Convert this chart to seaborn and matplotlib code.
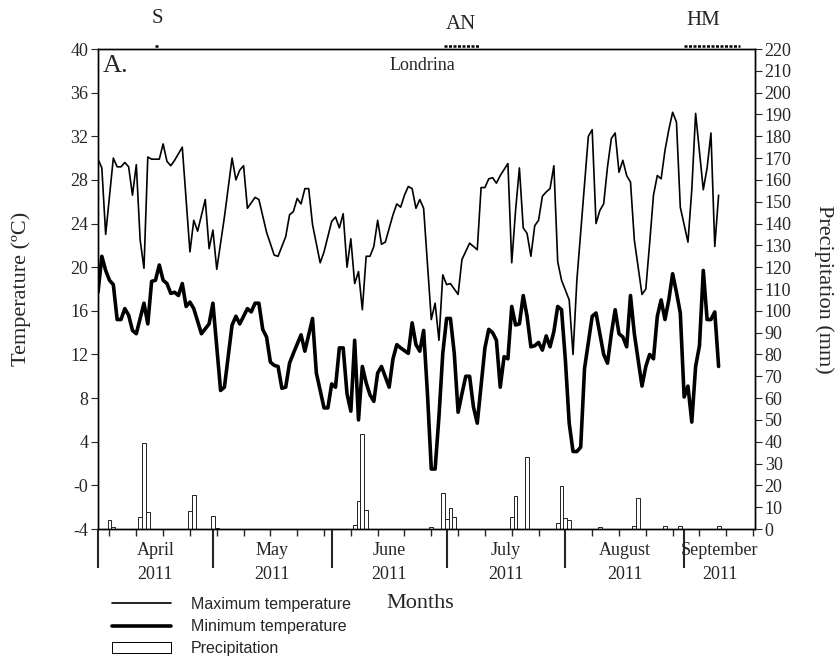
import numpy as np
import pandas as pd
import matplotlib
matplotlib.use("Agg")
import matplotlib.pyplot as plt
import seaborn as sns
from matplotlib.lines import Line2D
from matplotlib.patches import Patch

# days counted from 1 April 2011
max_days = [0, 1, 2, 4, 5, 6, 7, 8, 9, 10, 11, 12, 13, 14, 16, 17, 18, 19, 20, 22,
            24, 25, 26, 28, 29, 30, 31, 33, 35, 36, 37, 38, 39, 41, 42, 44, 46, 47, 49, 50,
            51, 52, 53, 54, 55, 56, 58, 59, 61, 62, 63, 64, 65, 66, 67, 68, 69, 70, 71, 72,
            73, 74, 75, 77, 78, 79, 80, 81, 82, 83, 84, 85, 87, 88, 89, 90, 91, 92, 94, 95,
            97, 98, 99, 100, 101, 102, 103, 104, 105, 107, 108, 109, 110, 111, 112, 113, 114, 115, 116, 117,
            118, 119, 120, 121, 123, 124, 125, 128, 129, 130, 131, 132, 133, 134, 135, 136, 137, 138, 139, 140,
            142, 143, 144, 145, 146, 147, 148, 149, 150, 151, 152, 154, 155, 156, 158, 159, 160, 161, 162]
max_temp = [29.9, 29.1, 23.0, 30.0, 29.2, 29.2, 29.6, 29.2, 26.6, 29.4, 22.5, 19.9, 30.1, 29.9, 29.9, 31.3, 29.7, 29.3, 29.8, 31.0,
            21.4, 24.3, 23.3, 26.2, 21.7, 23.4, 19.8, 24.6, 30.0, 28.0, 28.9, 29.3, 25.4, 26.4, 26.2, 23.2, 21.1, 21.0, 22.8, 24.8,
            25.1, 26.3, 25.8, 27.2, 27.2, 23.9, 20.4, 21.4, 24.2, 24.6, 23.6, 24.9, 20.0, 22.6, 18.5, 19.6, 16.1, 21.0, 21.0, 21.9,
            24.3, 22.1, 22.3, 24.8, 25.8, 25.5, 26.6, 27.4, 27.2, 25.4, 26.2, 25.4, 15.2, 16.7, 13.3, 19.3, 18.4, 18.5, 17.5, 20.7,
            22.2, 21.9, 21.6, 27.3, 27.3, 28.1, 28.2, 27.7, 28.4, 29.5, 20.4, 25.2, 29.1, 23.6, 23.1, 21.0, 23.8, 24.3, 26.5, 26.9,
            27.2, 29.3, 20.5, 18.8, 17.0, 12.0, 18.8, 32.0, 32.6, 24.0, 25.2, 25.8, 29.2, 31.8, 32.3, 28.7, 29.8, 28.4, 27.8, 22.5,
            17.5, 18.0, 22.2, 26.6, 28.4, 28.1, 30.7, 32.6, 34.2, 33.3, 25.5, 22.3, 27.1, 34.1, 27.1, 29.1, 32.3, 21.9, 26.6]

min_days = [0, 1, 2, 3, 4, 5, 6, 7, 8, 9, 10, 12, 13, 14, 15, 16, 17, 18, 19, 20,
            21, 22, 23, 24, 25, 27, 29, 30, 32, 33, 35, 36, 37, 38, 39, 40, 41, 42, 43, 44,
            45, 46, 47, 48, 49, 50, 51, 53, 54, 56, 57, 59, 60, 61, 62, 63, 64, 65, 66, 67,
            68, 69, 70, 71, 72, 73, 74, 76, 77, 78, 79, 81, 82, 83, 84, 85, 86, 87, 88, 89,
            90, 91, 92, 93, 94, 95, 96, 97, 98, 99, 101, 102, 103, 104, 105, 106, 107, 108, 109, 110,
            111, 112, 113, 114, 115, 116, 117, 118, 119, 120, 121, 122, 123, 124, 125, 126, 127, 129, 130, 131,
            132, 133, 134, 135, 136, 137, 138, 139, 140, 142, 143, 144, 145, 146, 147, 148, 149, 150, 151, 152,
            153, 154, 155, 156, 157, 158, 159, 160, 161, 162]
min_temp = [17.7, 21.0, 19.7, 18.8, 18.4, 15.2, 15.2, 16.2, 15.6, 14.2, 13.9, 16.7, 14.8, 18.7, 18.8, 20.2, 18.8, 18.5, 17.6, 17.7,
            17.4, 18.5, 16.4, 16.8, 16.2, 13.9, 14.8, 16.7, 8.7, 9.0, 14.7, 15.5, 14.8, 15.5, 16.2, 15.9, 16.7, 16.7, 14.3, 13.6,
            11.3, 11.0, 10.9, 8.9, 9.0, 11.2, 12.1, 13.8, 12.3, 15.3, 10.3, 7.1, 7.1, 9.3, 9.0, 12.6, 12.6, 8.4, 6.8, 13.3,
            6.0, 10.9, 9.4, 8.3, 7.7, 10.3, 10.9, 9.0, 11.6, 12.9, 12.6, 12.1, 14.9, 12.9, 12.3, 14.2, 8.4, 1.5, 1.5, 6.3,
            12.1, 15.3, 15.3, 12.1, 6.7, 8.4, 10.0, 10.0, 7.2, 5.7, 12.6, 14.3, 14.0, 13.3, 9.0, 11.8, 11.6, 16.4, 14.7, 14.8,
            17.4, 15.5, 12.7, 12.8, 13.1, 12.4, 13.7, 12.7, 14.1, 16.4, 16.1, 11.5, 5.7, 3.1, 3.1, 3.5, 10.7, 15.5, 15.8, 13.9,
            12.0, 11.2, 13.9, 16.1, 13.9, 13.6, 12.7, 17.4, 13.9, 9.1, 10.9, 12.0, 11.6, 15.5, 17.0, 15.2, 17.0, 19.4, 17.7, 15.8,
            8.1, 9.1, 5.8, 10.9, 12.8, 19.7, 15.2, 15.2, 15.9, 10.9]

rain_days = [3, 4, 11, 12, 13, 24, 25, 30, 31, 67, 68, 69, 70, 87, 90, 91, 92, 93,
             108, 109, 112, 120, 121, 122, 123, 131, 140, 141, 148, 152, 162]
rain_mm = [4.1, 1.0, 5.4, 39.3, 7.6, 8.4, 15.6, 6.1, 0.6, 1.8, 12.8, 43.6, 8.7, 1.0, 16.4, 4.6, 9.5, 5.4,
           5.4, 15.1, 33.2, 2.6, 19.7, 5.0, 4.1, 0.8, 1.5, 14.1, 1.2, 1.5, 1.5]

month_starts = [0, 30, 61, 91, 122, 153]
month_names = ["April", "May", "June", "July", "August", "September"]
day_end = 171.5
week_ticks = list(range(3, 172, 7))
temp_ticks = list(range(-4, 41, 4))
temp_labels = ["-0" if t == 0 else str(t) for t in temp_ticks]
rain_ticks = list(range(0, 221, 10))

sns.set_theme(style="ticks")
plt.rcParams['font.family'] = ['Liberation Serif', 'DejaVu Serif']
plt.rcParams['xtick.direction'] = 'out'
plt.rcParams['ytick.direction'] = 'out'

fig = plt.figure(figsize=(8.4, 6.59), dpi=100)
ax = fig.add_axes([98 / 840, 1 - 529 / 659, 657 / 840, 480 / 659])
ax2 = ax.twinx()

rain_df = pd.DataFrame({"day": rain_days, "mm": rain_mm})
sns.barplot(data=rain_df, x="day", y="mm", native_scale=True, width=1.0,
            color="white", edgecolor="#222222", linewidth=0.7, ax=ax2, zorder=1)
ax2.set_ylim(0, 220)
ax2.set_yticks(rain_ticks)
ax2.set_ylabel("Precipitation (mm)", rotation=270, labelpad=30, fontsize=16)
ax2.tick_params(axis="y", labelsize=13, length=5, width=0.8, pad=2)

ax.set_zorder(ax2.get_zorder() + 1)
ax.patch.set_visible(False)
sns.lineplot(x=max_days, y=max_temp, color="black", linewidth=1.2, ax=ax)
sns.lineplot(x=min_days, y=min_temp, color="black", linewidth=2.6, ax=ax)
ax.set_ylim(-4, 40)
ax.set_yticks(temp_ticks)
ax.set_yticklabels(temp_labels)
ax.set_ylabel("Temperature (ºC)", fontsize=16, labelpad=28)
ax.tick_params(axis="y", labelsize=13, length=5, width=0.8, pad=2)

ax.set_xlim(0, day_end)
ax2.set_xlim(0, day_end)
ax.set_xticks(month_starts)
ax.set_xticklabels([])
ax.set_xticks(week_ticks, minor=True)
ax.tick_params(axis="x", which="major", length=28, width=1.5)
ax.tick_params(axis="x", which="minor", length=5, width=1.0)
ax2.tick_params(axis="x", which="both", length=0)
ax2.set_xlabel("")

for a in (ax, ax2):
    for s in a.spines.values():
        s.set_color("black")
        s.set_linewidth(1.0)

bounds = month_starts + [day_end]
for i, name in enumerate(month_names):
    mid = (bounds[i] + bounds[i + 1]) / 2
    ax.text(mid, -0.027, name + "\n2011", transform=ax.get_xaxis_transform(),
            ha="center", va="top", fontsize=13, linespacing=1.55)

ax.text(0.007, 0.9646, "A.", transform=ax.transAxes, ha="left", va="center", fontsize=19)
ax.text(0.493, 0.9646, "Londrina", transform=ax.transAxes, ha="center", va="center", fontsize=13)

# crop stages above the frame
stage_names = ["S", "AN", "HM"]
stage_text_x = [15.4, 94.8, 158.0]
stage_text_y = [1.064, 1.052, 1.06]
stage_start = [14.8, 90.4, 153.0]
stage_end = [16.0, 99.8, 167.6]
xt = ax.get_xaxis_transform()
for name, tx, ty, s0, s1 in zip(stage_names, stage_text_x, stage_text_y, stage_start, stage_end):
    ax.text(tx, ty, name, transform=xt, ha="center", va="center", fontsize=15, clip_on=False)
    ax.plot([s0, s1], [1.006, 1.006], transform=xt, color="black", linewidth=1.8,
            linestyle=(0, (1.2, 0.6)), clip_on=False)

fig.text(420 / 840, 1 - 603 / 659, "Months", ha="center", va="center", fontsize=16)

handles = [Line2D([], [], color="black", linewidth=1.2),
           Line2D([], [], color="black", linewidth=2.6),
           Patch(facecolor="white", edgecolor="black", linewidth=0.7)]
labels = ["Maximum temperature", "Minimum temperature", "Precipitation"]
fig.legend(handles, labels, loc="upper left", bbox_to_anchor=(112 / 840, 1 - 597 / 659),
           frameon=False, borderpad=0, borderaxespad=0, handlelength=3.7, handleheight=0.7,
           handletextpad=1.25, labelspacing=0.45,
           prop={"family": "Liberation Sans", "size": 11.5})

fig.savefig("out.png", dpi=100)
